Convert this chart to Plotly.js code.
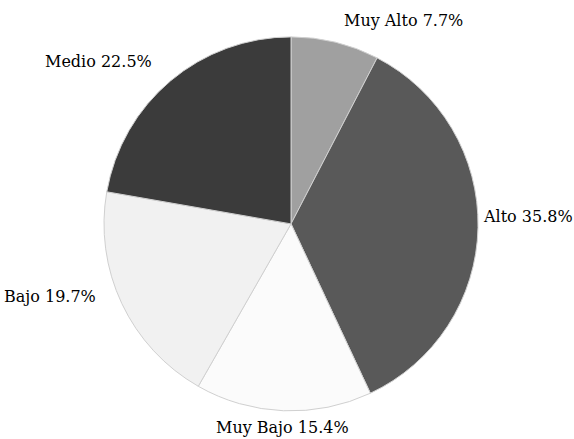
<!DOCTYPE html>
<html>
<head>
<meta charset="utf-8">
<script src="https://cdn.plot.ly/plotly-3.0.1.min.js"></script>
<style>html,body{margin:0;padding:0;background:#fff;}#chart{width:574px;height:439px;}</style>
</head>
<body>
<div id="chart"></div>
<script>
const labels = ["Muy Alto", "Alto", "Muy Bajo", "Bajo", "Medio"];
const values = [7.7, 35.8, 15.4, 19.7, 22.5];
const colors = ["#a0a0a0", "#595959", "#fbfbfb", "#f1f1f1", "#3b3b3b"];

const W = 574, H = 439;
const dom = { x: [0.181, 0.833], y: [0.064, 0.916] };
const FONT = "DejaVu Serif";
const FS = 16;

// pie geometry in pixels, derived from the domain
const cx = (dom.x[0] + dom.x[1]) / 2 * W;
const cy = (1 - (dom.y[0] + dom.y[1]) / 2) * H;
const R = Math.min((dom.x[1] - dom.x[0]) * W, (dom.y[1] - dom.y[0]) * H) / 2;
const gx = 26, gy = 11;

const ctx = document.createElement("canvas").getContext("2d");
ctx.font = FS + "px '" + FONT + "'";
const boxH = FS * 1.3 + 2;

const total = values.reduce((a, b) => a + b, 0);
let cum = 0;
const annotations = values.map((v, i) => {
  const mid = (cum + v / 2) / total * 2 * Math.PI; // clockwise from 12 o'clock
  cum += v;
  const s = Math.sin(mid), c = Math.cos(mid);
  const px = cx + (R + gx) * s;
  const py = cy - (R + gy) * c;
  const text = labels[i] + " " + v.toFixed(1) + "%";
  const w = ctx.measureText(text).width + 4;
  let bx = s > 0.15 ? px : (s < -0.15 ? px - w : px - w / 2);
  let by = c < -0.9 ? py : py - boxH;
  bx = Math.max(0, Math.min(W - w, bx));
  by = Math.max(0, Math.min(H - boxH, by));
  return {
    xref: "paper", yref: "paper",
    x: bx / W, y: 1 - by / H,
    xanchor: "left", yanchor: "top",
    showarrow: false,
    text: text,
    font: { family: FONT + ", serif", size: FS, color: "#000" }
  };
});

const trace = {
  type: "pie",
  labels: labels,
  values: values,
  sort: false,
  direction: "clockwise",
  rotation: 0,
  textinfo: "none",
  hoverinfo: "none",
  marker: { colors: colors, line: { color: "#d0d0d0", width: 1 } },
  domain: dom,
  automargin: false
};

const layout = {
  width: W, height: H,
  margin: { l: 0, r: 0, t: 0, b: 0 },
  showlegend: false,
  paper_bgcolor: "#fff",
  plot_bgcolor: "#fff",
  annotations: annotations
};

Plotly.newPlot("chart", [trace], layout, { displayModeBar: false, staticPlot: true });
</script>
</body>
</html>
